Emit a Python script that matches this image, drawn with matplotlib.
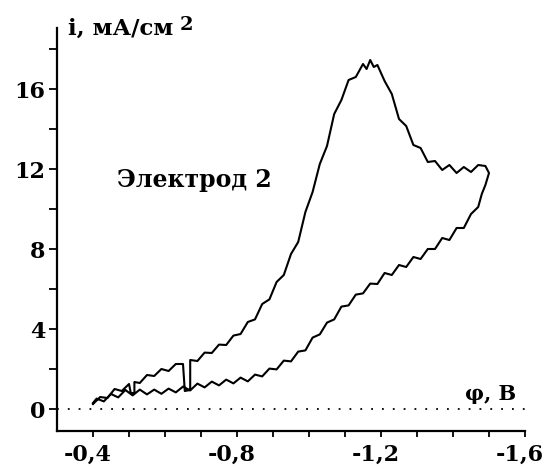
import matplotlib
matplotlib.use("Agg")
import matplotlib.pyplot as plt
from matplotlib.ticker import FixedLocator
from matplotlib.transforms import ScaledTranslation

# ---- data ----
x_fwd = [-0.40, -0.42, -0.44, -0.46, -0.48, -0.50, -0.505, -0.515, -0.515, -0.53,
         -0.55, -0.57, -0.59, -0.61, -0.63, -0.65, -0.655, -0.67, -0.67, -0.69,
         -0.71, -0.73, -0.75, -0.77, -0.79, -0.81, -0.83, -0.85, -0.87, -0.89,
         -0.91, -0.93, -0.95, -0.97, -0.99, -1.01, -1.03, -1.05, -1.07, -1.09,
         -1.11, -1.13, -1.15, -1.16, -1.17, -1.18, -1.19, -1.21, -1.23, -1.25,
         -1.27, -1.29, -1.31, -1.33, -1.35, -1.37, -1.39, -1.41, -1.43, -1.45,
         -1.47, -1.49, -1.50]
y_fwd = [0.25, 0.6, 0.55, 1.0, 0.9, 1.25, 0.8, 0.8, 1.35, 1.3,
         1.7, 1.65, 2.0, 1.9, 2.25, 2.25, 0.9, 0.95, 2.45, 2.4,
         2.82, 2.8, 3.22, 3.2, 3.67, 3.75, 4.35, 4.48, 5.25, 5.48,
         6.35, 6.7, 7.75, 8.35, 9.85, 10.85, 12.25, 13.15, 14.75, 15.45,
         16.45, 16.6, 17.25, 17.0, 17.45, 17.1, 17.2, 16.4, 15.75, 14.5,
         14.15, 13.2, 13.05, 12.35, 12.4, 11.95, 12.2, 11.8, 12.1, 11.85,
         12.2, 12.15, 11.8]

x_rev = [-1.50, -1.49, -1.48, -1.47, -1.45, -1.43, -1.41, -1.39, -1.37, -1.35,
         -1.33, -1.31, -1.29, -1.27, -1.25, -1.23, -1.21, -1.19, -1.17, -1.15,
         -1.13, -1.11, -1.09, -1.07, -1.05, -1.03, -1.01, -0.99, -0.97, -0.95,
         -0.93, -0.91, -0.89, -0.87, -0.85, -0.83, -0.81, -0.79, -0.77, -0.75,
         -0.73, -0.71, -0.69, -0.67, -0.65, -0.63, -0.61, -0.59, -0.57, -0.55,
         -0.53, -0.51, -0.49, -0.47, -0.45, -0.43, -0.41, -0.40]
y_rev = [11.8, 11.2, 10.75, 10.1, 9.75, 9.05, 9.05, 8.45, 8.55, 8.0,
         8.0, 7.5, 7.6, 7.1, 7.2, 6.7, 6.8, 6.25, 6.27, 5.78,
         5.72, 5.18, 5.12, 4.48, 4.32, 3.73, 3.57, 2.93, 2.87, 2.38,
         2.42, 1.98, 2.02, 1.63, 1.72, 1.38, 1.57, 1.28, 1.47, 1.18,
         1.37, 1.08, 1.27, 0.93, 1.12, 0.83, 1.02, 0.76, 0.97, 0.73,
         0.97, 0.68, 0.95, 0.58, 0.75, 0.38, 0.52, 0.3]

x_major = [-0.4, -0.8, -1.2, -1.6]
x_major_labels = ["-0,4", "-0,8", "-1,2", "-1,6"]
x_minor = [-0.5, -0.6, -0.7, -0.9, -1.0, -1.1, -1.3, -1.4, -1.5]
y_major = [0, 4, 8, 12, 16]
y_major_labels = ["0", "4", "8", "12", "16"]
y_minor = [2, 6, 10, 14, 18]

label_text = "Электрод 2"
ylabel_text = "i, мА/см"
ylabel_sup = "2"
xlabel_text = "φ, В"

# ---- figure ----
W, H = 552, 465
fig = plt.figure(figsize=(W / 100, H / 100), dpi=100)
ax = fig.add_axes([57 / W, 1 - 431 / H, (525 - 57) / W, (431 - 28) / H])

ax.plot(x_fwd + x_rev, y_fwd + y_rev, color="black", lw=1.5)
ax.axhline(0, color="black", lw=1.3, linestyle=(0, (1, 5)))

ax.set_xlim(-0.3, -1.6)
ax.set_ylim(-1.1, 19.05)

for s in ["top", "right"]:
    ax.spines[s].set_visible(False)
for s in ["left", "bottom"]:
    ax.spines[s].set_linewidth(1.6)

ax.xaxis.set_major_locator(FixedLocator(x_major))
ax.xaxis.set_minor_locator(FixedLocator(x_minor))
ax.yaxis.set_major_locator(FixedLocator(y_major))
ax.yaxis.set_minor_locator(FixedLocator(y_minor))
tick_font = dict(family="DejaVu Serif", weight="bold", size=16)
ax.set_xticklabels(x_major_labels, fontdict=tick_font)
ax.set_yticklabels(y_major_labels, fontdict=tick_font)
ax.tick_params(axis="x", which="both", direction="out", length=4.5, width=1.3, pad=5)
ax.tick_params(axis="y", which="both", direction="out", length=5.5, width=1.3, pad=3)

shift = ScaledTranslation(-5 / 100, 0, fig.dpi_scale_trans)
for lbl in ax.get_xticklabels():
    lbl.set_transform(lbl.get_transform() + shift)

fig.text(117 / W, 1 - 187 / H, label_text, family="DejaVu Serif", weight="bold",
         size=17, va="baseline", ha="left")
fig.text(465 / W, 1 - 400 / H, xlabel_text, family="DejaVu Serif", weight="bold",
         size=15, va="baseline", ha="left")
fig.text(68 / W, 1 - 35 / H, ylabel_text, family="DejaVu Serif", weight="bold",
         size=16.5, va="baseline", ha="left")
fig.text(180 / W, 1 - 30 / H, ylabel_sup, family="DejaVu Serif", weight="bold",
         size=14, va="baseline", ha="left")

fig.savefig("out.png", dpi=100)
